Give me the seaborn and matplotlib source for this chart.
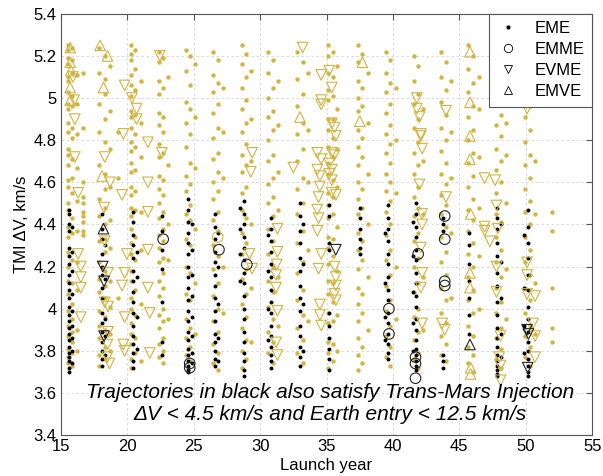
import numpy as np
import pandas as pd
import matplotlib
matplotlib.use("Agg")
import matplotlib.pyplot as plt
from matplotlib.lines import Line2D
import seaborn as sns

GOLD = "#D2B440"

# dot strands: launch year of each strand, TMI dV values along it
gold_x = [15.55, 15.85, 16.2, 16.7,
          17.9, 18.3, 18.7, 19.3,
          20.3, 20.6, 21.0,
          22.4, 22.7, 23.1,
          24.4, 24.75, 25.1,
          26.45, 26.8, 27.2,
          28.6, 28.95, 29.3,
          30.6, 30.95, 31.35,
          32.8, 33.2, 33.6,
          35.1, 35.45, 35.8,
          37.35, 37.7, 38.1,
          39.45, 39.8, 40.2,
          41.55, 41.9, 42.3,
          43.65, 44.0, 44.4,
          45.65, 46.0, 46.5,
          47.75, 48.1, 48.5,
          49.95, 50.3, 50.7,
          52.0]
gold_y = [
    [5.25, 5.23, 5.19, 5.16, 5.10, 5.08, 5.03, 4.97, 4.95, 4.88, 4.84, 4.76, 4.73, 4.68, 4.61, 4.58, 4.50,
     4.47, 4.39, 4.34, 4.27, 4.20, 4.13, 4.07, 3.99, 3.92, 3.87, 3.81, 3.77, 3.74],
    [5.24, 5.18, 5.12, 5.01, 4.96, 4.86, 4.81, 4.71, 4.62, 4.55, 4.43, 4.36, 4.23, 4.12, 4.02, 3.95, 3.89,
     3.84, 3.79, 3.73],
    [5.11, 4.97, 4.83, 4.67, 4.51, 4.37, 4.22, 4.09, 3.90, 3.80],
    [5.12, 4.86, 4.60, 4.53, 4.50, 4.46, 4.44, 4.41, 4.37, 4.35],
    [5.24, 5.12, 4.97, 4.84, 4.68, 4.52, 4.44, 4.32, 4.22, 4.14, 4.08, 3.99, 3.92, 3.86, 3.78, 3.73],
    [5.20, 5.09, 5.02, 4.90, 4.79, 4.64, 4.57, 4.48, 4.40, 4.33, 4.27, 4.18, 4.11, 4.05, 3.96, 3.90, 3.82, 3.76],
    [5.15, 4.94, 4.76, 4.58, 4.42, 4.29, 4.13, 4.01, 3.88, 3.80],
    [4.84, 4.62, 4.05],
    [5.25, 5.21, 5.18, 5.11, 5.06, 5.01, 4.94, 4.91, 4.86, 4.79, 4.75, 4.69, 4.65, 4.58, 4.54, 4.48, 4.44,
     4.38, 4.31, 4.26, 4.18, 4.13, 4.05, 4.00, 3.93, 3.88, 3.83, 3.76, 3.72],
    [5.23, 5.14, 5.04, 4.92, 4.83, 4.77, 4.66, 4.56, 4.47, 4.34, 4.23, 4.09, 3.97, 3.86, 3.79],
    [5.08, 4.88, 4.72, 4.46, 4.28, 4.02, 3.75],
    [5.22, 5.17, 5.08, 5.02, 4.93, 4.87, 4.78, 4.72, 4.63, 4.57, 4.50, 4.43, 4.35, 4.29, 4.22, 4.13, 4.06,
     3.97, 3.91, 3.83, 3.77],
    [5.19, 5.05, 4.91, 4.84, 4.74, 4.61, 4.54, 4.46, 4.38, 4.32, 4.24, 4.17, 4.10, 4.00, 3.94, 3.86, 3.80, 3.74],
    [5.10, 4.68, 4.40, 4.23, 3.95],
    [5.23, 5.13, 4.98, 4.88, 4.77, 4.63, 4.56, 4.45, 4.33, 4.20, 4.07, 3.95, 3.86, 3.78],
    [5.20, 5.06, 4.95, 4.83, 4.69, 4.59, 4.49, 4.42, 4.30, 4.17, 4.04, 3.91, 3.82, 3.75],
    [5.16, 4.91, 4.67, 4.38, 4.12, 3.88],
    [5.22, 5.11, 5.03, 4.93, 4.81, 4.71, 4.60, 4.52, 4.42, 4.30, 4.19, 4.06, 3.94, 3.83, 3.74],
    [5.18, 5.07, 4.97, 4.86, 4.74, 4.65, 4.56, 4.46, 4.37, 4.25, 4.12, 4.00, 3.89, 3.79, 3.71],
    [5.05, 4.84, 4.62, 4.20, 3.98],
    [5.25, 5.16, 5.05, 4.95, 4.84, 4.73, 4.65, 4.55, 4.47, 4.36, 4.26, 4.14, 4.02, 3.91, 3.80, 3.72],
    [5.21, 5.10, 4.99, 4.88, 4.78, 4.68, 4.58, 4.43, 4.31, 4.19, 4.07, 3.96, 3.85, 3.76],
    [5.13, 4.90, 4.70, 4.40, 4.10, 3.84],
    [5.22, 5.12, 5.00, 4.91, 4.80, 4.70, 4.59, 4.50, 4.38, 4.26, 4.13, 4.01, 3.89, 3.79],
    [5.18, 5.05, 4.94, 4.85, 4.73, 4.62, 4.53, 4.44, 4.32, 4.20, 4.08, 3.95, 3.84, 3.74],
    [5.08, 4.87, 4.65, 4.47, 4.15, 3.92],
    [5.22, 5.09, 4.96, 4.83, 4.70, 4.57, 4.45, 4.31, 4.17, 4.04, 3.91, 3.79],
    [5.17, 5.02, 4.88, 4.76, 4.62, 4.50, 4.37, 4.22, 4.09, 3.97, 3.85, 3.74],
    [5.12, 4.85, 4.60, 4.28, 3.94],
    [5.25, 5.20, 5.12, 5.04, 4.99, 4.90, 4.85, 4.77, 4.69, 4.64, 4.55, 4.49, 4.43, 4.34, 4.29, 4.21, 4.13,
     4.07, 3.98, 3.93, 3.84, 3.79, 3.72],
    [5.22, 5.10, 5.01, 4.90, 4.81, 4.72, 4.61, 4.53, 4.45, 4.33, 4.25, 4.12, 4.03, 3.94, 3.83, 3.75],
    [5.15, 4.95, 4.76, 4.58, 4.39, 4.18, 3.97, 3.80],
    [5.25, 5.17, 5.08, 5.00, 4.94, 4.85, 4.77, 4.68, 4.60, 4.52, 4.45, 4.36, 4.28, 4.19, 4.10, 4.02, 3.94,
     3.86, 3.78, 3.71],
    [5.21, 5.05, 4.96, 4.81, 4.72, 4.57, 4.48, 4.32, 4.23, 4.07, 3.98, 3.82, 3.74],
    [5.12, 4.88, 4.64, 4.40, 4.15, 3.90],
    [5.22, 5.12, 5.03, 4.93, 4.83, 4.74, 4.64, 4.56, 4.46, 4.35, 4.23, 4.11, 3.99, 3.87, 3.77],
    [5.18, 5.07, 4.97, 4.87, 4.78, 4.69, 4.60, 4.51, 4.40, 4.28, 4.16, 4.04, 3.92, 3.82, 3.73],
    [5.05, 4.80, 4.55, 4.20, 3.95],
    [5.20, 5.08, 4.97, 4.86, 4.74, 4.64, 4.53, 4.44, 4.32, 4.20, 4.08, 3.96, 3.85, 3.76],
    [5.15, 5.02, 4.90, 4.79, 4.68, 4.58, 4.48, 4.36, 4.24, 4.12, 4.00, 3.89, 3.79, 3.72],
    [4.95, 4.70, 4.45, 4.15, 3.90],
    [5.22, 5.10, 4.98, 4.86, 4.75, 4.64, 4.54, 4.45, 4.34, 4.22, 4.10, 3.98, 3.87, 3.78],
    [5.17, 5.04, 4.92, 4.80, 4.69, 4.59, 4.49, 4.39, 4.27, 4.16, 4.04, 3.93, 3.83, 3.75],
    [5.08, 4.84, 4.62, 4.36, 4.05],
    [5.25, 5.14, 5.03, 4.91, 4.80, 4.69, 4.58, 4.47, 4.37, 4.26, 4.15, 4.04, 3.92, 3.82, 3.74],
    [5.20, 5.07, 4.96, 4.85, 4.74, 4.63, 4.52, 4.42, 4.31, 4.20, 4.09, 3.98, 3.87, 3.78, 3.70],
    [5.10, 4.95, 4.72, 4.48, 4.25, 4.00],
    [5.12, 4.98, 4.87, 4.76, 4.66, 4.55, 4.45, 4.34, 4.22, 4.10, 3.98, 3.86, 3.76],
    [5.05, 4.92, 4.82, 4.70, 4.60, 4.41, 4.28, 4.15, 4.03, 3.91, 3.81, 3.72],
    [4.88, 4.73, 4.50, 4.19, 3.95],
    [5.24, 5.13, 5.02, 4.91, 4.79, 4.68, 4.57, 4.46, 4.34, 4.22, 4.10, 3.98, 3.87, 3.77],
    [5.19, 5.07, 4.96, 4.85, 4.73, 4.62, 4.51, 4.40, 4.28, 4.16, 4.04, 3.92, 3.82, 3.73],
    [4.98, 4.70, 4.45, 4.12, 3.88],
    [4.46, 4.37, 4.10, 3.91, 3.84],
]

black_x = [15.6, 15.8, 18.1, 18.35, 20.45, 20.7, 22.6, 24.6, 24.85, 26.6, 26.85,
           28.75, 28.45, 30.85, 30.6, 33.0, 33.25, 35.2, 37.5, 39.65, 39.4,
           41.7, 41.5, 43.8, 45.75, 47.85, 48.15, 50.15, 49.9]
black_y = [
    [4.47, 4.45, 4.40, 4.37, 4.29, 4.25, 4.21, 4.16, 4.12, 4.09, 4.05, 4.01, 3.97, 3.94, 3.91, 3.88, 3.85,
     3.82, 3.79, 3.77, 3.75, 3.72, 3.70],
    [4.39, 4.27, 4.18, 4.07, 3.99, 3.92, 3.86, 3.80, 3.74],
    [4.45, 4.38, 4.33, 4.26, 4.20, 4.16, 4.10, 4.05, 3.98, 3.93, 3.89, 3.84, 3.80, 3.76, 3.73],
    [4.30, 4.14, 3.95, 3.87, 3.78],
    [4.46, 4.41, 4.35, 4.30, 4.24, 4.18, 4.13, 4.08, 4.03, 3.98, 3.92, 3.87, 3.83, 3.79, 3.75, 3.72],
    [4.27, 4.15, 3.96, 3.81],
    [4.44, 4.37, 4.28, 4.19, 4.03, 3.84, 3.78],
    [4.52, 4.47, 4.41, 4.36, 4.31, 4.26, 4.20, 4.15, 4.10, 4.04, 3.99, 3.94, 3.89, 3.85, 3.81, 3.78, 3.75,
     3.73, 3.71, 3.70],
    [4.40, 4.28, 4.16, 4.06, 3.96, 3.87, 3.79, 3.74],
    [4.45, 4.39, 4.33, 4.27, 4.22, 4.16, 4.11, 4.05, 3.99, 3.94, 3.88, 3.84, 3.80, 3.76, 3.73],
    [4.36, 4.20, 4.02, 3.86, 3.75],
    [4.51, 4.45, 4.40, 4.34, 4.29, 4.23, 4.17, 4.12, 4.06, 4.00, 3.95, 3.89, 3.84, 3.79, 3.75, 3.71, 3.68],
    [4.48, 4.38, 4.26, 4.13],
    [4.43, 4.38, 4.32, 4.27, 4.21, 4.15, 4.09, 4.03, 3.98, 3.92, 3.87, 3.82, 3.78, 3.75, 3.72],
    [4.35, 4.18, 4.00, 3.85],
    [4.50, 4.44, 4.37, 4.31, 4.24, 4.18, 4.11, 4.05, 3.99, 3.92, 3.87, 3.82, 3.77, 3.73],
    [4.40, 4.21, 4.02, 3.80],
    [4.49, 4.44, 4.31, 4.28, 3.98, 3.92, 3.86, 3.81, 3.76, 3.71],
    [4.48, 4.43, 4.38, 4.33, 4.29, 4.26],
    [4.49, 4.43, 4.38, 4.32, 4.26, 4.21, 4.15, 4.09, 4.04, 3.98, 3.93, 3.88, 3.83, 3.79, 3.76],
    [4.36, 4.12, 3.96, 3.85],
    [4.50, 4.45, 4.39, 4.34, 4.28, 4.23, 4.17, 4.12, 4.06, 4.01, 3.95, 3.90, 3.85, 3.81, 3.78, 3.75, 3.73, 3.71],
    [4.41, 4.25, 4.08, 3.93, 3.80],
    [4.43, 4.40, 4.37, 3.78, 3.75, 3.72],
    [4.36, 4.30, 4.21, 4.13, 4.05, 3.97, 3.88],
    [4.48, 4.43, 4.38, 4.31, 4.25, 4.17, 4.11, 4.03, 3.97, 3.91, 3.86, 3.82, 3.78, 3.75, 3.73, 3.71, 3.69, 3.68],
    [4.40, 4.22, 4.05, 3.88, 3.77],
    [4.47, 4.39, 4.31, 4.24, 4.16, 4.09, 4.01, 3.95, 3.89, 3.84, 3.80, 3.76, 3.73, 3.70, 3.68],
    [4.35, 4.10, 3.92, 3.79],
]

# EVME (down triangles)
evme_gold_x = [15.9, 16.0, 16.05, 16.05, 16.3, 16.3, 16.5, 16.5, 16.5, 16.5,
               18.3, 18.7, 18.25, 18.3, 18.55, 18.55, 18.3, 18.55, 18.5, 18.5, 18.65,
               19.8, 19.7, 20.35, 20.7, 20.7, 19.6, 19.97, 19.8, 19.6, 19.8, 19.7, 19.8,
               21.55, 22.45, 22.6, 21.55, 21.55, 21.55, 21.55, 21.7, 21.7,
               29.2, 29.3, 29.4, 29.4,
               31.3, 31.3, 31.25, 31.2, 31.2, 31.3, 31.2, 31.3,
               32.5, 33.2,
               34.6, 35.2, 35.4, 34.6, 34.6, 35.4, 35.6, 35.7, 34.3, 34.6, 34.3, 34.5, 34.5,
               35.4, 35.6, 35.2, 35.4, 35.2, 35.4, 35.4, 35.7, 34.4, 34.3, 34.4, 34.3, 34.6,
               35.6, 35.7, 35.7, 35.6, 35.7, 34.5, 34.5, 34.6, 34.4,
               41.8, 41.8, 42.0, 42.1, 42.1, 42.2, 42.0, 42.2, 42.2, 42.1, 42.2, 42.1, 42.2,
               44.0, 44.0, 43.7, 43.9,
               46.9, 47.7, 47.8, 46.9, 46.9, 47.3, 47.9, 47.8, 47.8, 48.1, 48.0, 48.1, 48.1,
               50.1, 50.1, 50.1, 50.1, 50.7, 50.55, 50.7, 50.7]
evme_gold_y = [5.10, 4.99, 4.90, 4.72, 4.55, 4.26, 4.20, 4.15, 4.10, 3.96,
               4.72, 4.60, 4.48, 4.32, 4.17, 4.01, 4.03, 3.89, 3.83, 3.77, 3.74,
               5.06, 4.83, 5.00, 4.95, 4.90, 4.54, 4.26, 4.17, 4.11, 3.96, 3.83, 3.80,
               4.79, 5.20, 4.74, 4.60, 4.46, 4.28, 4.10, 3.98, 3.79,
               4.26, 4.65, 4.74, 4.19,
               4.38, 4.27, 4.21, 4.16, 4.10, 3.99, 3.84, 3.78,
               4.67, 5.24,
               5.11, 5.13, 5.05, 4.99, 4.97, 4.88, 4.86, 4.82, 4.74, 4.71, 4.66, 4.63, 4.58,
               4.74, 4.73, 4.69, 4.66, 4.64, 4.61, 4.55, 4.54, 4.53, 4.47, 4.43, 4.37, 4.26,
               4.20, 4.15, 4.11, 4.07, 4.04, 4.02, 3.97, 3.92, 4.19,
               5.00, 4.95, 4.91, 4.83, 4.82, 4.76, 4.59, 4.45, 4.40, 4.29, 4.17, 4.10, 3.93,
               4.94, 4.53, 3.93, 3.90,
               4.62, 4.61, 4.49, 4.39, 4.37, 4.32, 4.38, 4.20, 4.08, 3.87, 3.77, 3.73, 3.66,
               4.95, 4.22, 4.16, 4.07, 4.06, 3.93, 3.87, 3.77]
evme_black_x = [18.15, 18.25, 18.25, 35.7, 50.1, 50.2, 50.15]
evme_black_y = [4.20, 4.13, 3.87, 4.28, 3.90, 3.88, 3.72]

# EMVE (up triangles)
emve_gold_x = [15.7, 15.7, 15.75, 15.7, 15.7, 17.95, 18.5, 18.2, 18.1, 33.0, 37.7, 37.5,
               45.8, 45.8, 45.8, 45.8, 45.85, 45.8, 45.8, 45.85, 45.85]
emve_gold_y = [5.24, 5.17, 5.13, 5.05, 4.99, 5.25, 5.20, 5.05, 4.63, 4.91, 5.17, 4.89,
               5.22, 4.98, 4.82, 4.71, 4.45, 4.17, 4.10, 3.72, 3.69]
emve_black_x = [45.8, 18.2]
emve_black_y = [3.83, 4.38]

# EMME (circles)
emme_black_x = [22.7, 26.9, 29.0, 24.7, 24.7, 39.7, 39.7, 41.9, 41.7, 41.7, 41.7, 43.9, 43.9, 43.9, 43.9]
emme_black_y = [4.33, 4.28, 4.21, 3.74, 3.72, 4.00, 3.88, 4.26, 3.77, 3.74, 3.67, 4.44, 4.33, 4.13, 4.11]
emme_gold_x = [26.8]
emme_gold_y = [4.34]


def strands_to_frame(xs, ys):
    rows = []
    for x, yl in zip(xs, ys):
        for y in yl:
            rows.append((x, y))
    return pd.DataFrame(rows, columns=["year", "dv"])


sns.set_theme(style="white")
plt.rcParams["font.family"] = ["Liberation Sans", "DejaVu Sans"]
plt.rcParams["text.color"] = "black"
plt.rcParams["axes.labelcolor"] = "black"
plt.rcParams["xtick.labelcolor"] = "black"
plt.rcParams["ytick.labelcolor"] = "black"

fig = plt.figure(figsize=(6.03, 4.76), dpi=100)
ax = fig.add_axes([0.101, 0.086, 0.881, 0.885])

gold_df = strands_to_frame(gold_x, gold_y)
black_df = strands_to_frame(black_x, black_y)

sns.scatterplot(data=gold_df, x="year", y="dv", ax=ax, color=GOLD, s=10, linewidth=0, marker="o")
sns.scatterplot(data=black_df, x="year", y="dv", ax=ax, color="black", s=8, linewidth=0, marker="o")

tri = dict(s=58, facecolor="none", linewidth=0.8)
sns.scatterplot(x=evme_gold_x, y=evme_gold_y, ax=ax, marker="v", edgecolor=GOLD, **tri)
sns.scatterplot(x=emve_gold_x, y=emve_gold_y, ax=ax, marker="^", edgecolor=GOLD, **tri)
sns.scatterplot(x=emme_gold_x, y=emme_gold_y, ax=ax, marker="o", edgecolor=GOLD, **tri)
sns.scatterplot(x=evme_black_x, y=evme_black_y, ax=ax, marker="v", edgecolor="#222222", **tri)
sns.scatterplot(x=emve_black_x, y=emve_black_y, ax=ax, marker="^", edgecolor="#222222", **tri)
sns.scatterplot(x=emme_black_x, y=emme_black_y, ax=ax, marker="o", edgecolor="#222222", **tri)

ax.set_xlim(15, 55)
ax.set_ylim(3.4, 5.4)
ax.set_xticks(np.arange(15, 56, 5))
ax.set_yticks(np.arange(3.4, 5.41, 0.2))
ax.set_yticklabels(["3.4", "3.6", "3.8", "4", "4.2", "4.4", "4.6", "4.8", "5", "5.2", "5.4"])
ax.grid(True, color="#d4d4d4", linestyle=(0, (3, 3)), linewidth=0.6)
ax.set_axisbelow(True)
for sp in ax.spines.values():
    sp.set_color("#555555")
    sp.set_linewidth(0.8)
ax.tick_params(direction="in", length=4, width=0.8, color="#555555", top=True, right=True,
               labelsize=12, pad=3, labelcolor="black")
ax.set_xlabel("Launch year", fontsize=12, labelpad=3)
ax.set_ylabel("TMI \u0394V, km/s", fontsize=12, labelpad=3)

ax.text(35.3, 3.60, "Trajectories in black also satisfy Trans-Mars Injection",
        fontsize=15, style="italic", ha="center", va="center", color="black")
ax.text(35.3, 3.50, "\u0394V < 4.5 km/s and Earth entry < 12.5 km/s",
        fontsize=15, style="italic", ha="center", va="center", color="black")

handles = [
    Line2D([], [], linestyle="none", marker="o", markersize=2, color="black"),
    Line2D([], [], linestyle="none", marker="o", markersize=6, markerfacecolor="none",
           markeredgecolor="black", markeredgewidth=0.6),
    Line2D([], [], linestyle="none", marker="v", markersize=6, markerfacecolor="none",
           markeredgecolor="black", markeredgewidth=0.6),
    Line2D([], [], linestyle="none", marker="^", markersize=6, markerfacecolor="none",
           markeredgecolor="black", markeredgewidth=0.6),
]
leg = ax.legend(handles, ["EME", "EMME", "EVME", "EMVE"], loc="upper right", fontsize=12,
                frameon=True, fancybox=False, framealpha=1, edgecolor="#555555",
                borderaxespad=0, handletextpad=0.9, labelspacing=0.36, borderpad=0.45,
                handlelength=1.4)
leg.get_frame().set_linewidth(0.8)
for t in leg.get_texts():
    t.set_color("black")

fig.savefig("out.png", dpi=100)
